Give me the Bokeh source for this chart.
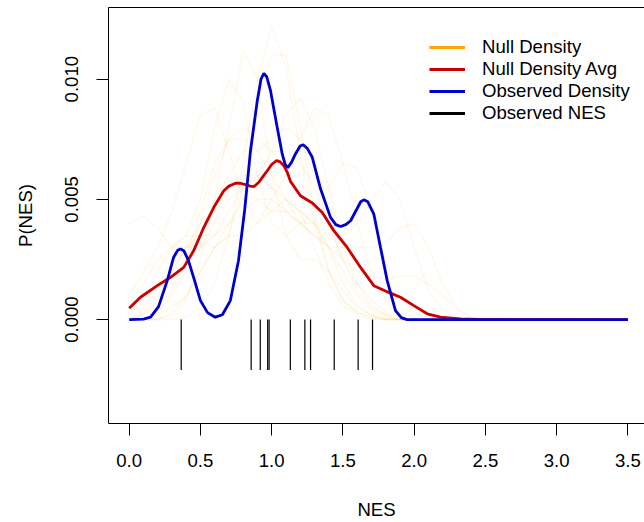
from bokeh.plotting import figure
from bokeh.models import (Range1d, FixedTicker, LinearAxis, Legend, LegendItem,
                          NumeralTickFormatter)
from bokeh.embed import file_html
from bokeh.resources import INLINE

# ---- data ----
obs_nes = [0.365, 0.856, 0.920, 0.972, 0.982, 1.131, 1.233, 1.273, 1.439, 1.607, 1.708]

obs_x = [0.0, 0.1, 0.15, 0.206, 0.267, 0.311, 0.34, 0.36, 0.385, 0.416, 0.46, 0.5,
         0.55, 0.604, 0.654, 0.71, 0.767, 0.81, 0.851, 0.899, 0.925, 0.945, 0.965,
         0.992, 1.039, 1.074, 1.095, 1.113, 1.14, 1.167, 1.20, 1.221, 1.25, 1.285,
         1.343, 1.413, 1.45, 1.483, 1.52, 1.554, 1.60, 1.625, 1.647, 1.675, 1.717,
         1.764, 1.811, 1.869, 1.91, 1.95, 3.5]
obs_y = [0.0, 0.00002, 0.0001, 0.00054, 0.00162, 0.00258, 0.00288, 0.00294, 0.00285,
         0.00245, 0.00160, 0.00079, 0.00029, 0.0001, 0.0002, 0.00079, 0.00245, 0.00453,
         0.0070, 0.0091, 0.0100, 0.01024, 0.0101, 0.00952, 0.00799, 0.00689, 0.00645,
         0.00632, 0.00655, 0.00689, 0.00722, 0.00727, 0.00712, 0.00675, 0.00544,
         0.00425, 0.00395, 0.00387, 0.00395, 0.00411, 0.00462, 0.0049, 0.00498, 0.0049,
         0.00439, 0.0030, 0.00162, 0.00037, 0.00008, 0.0, 0.0]

avg_x = [0.0, 0.079, 0.197, 0.29, 0.383, 0.453, 0.524, 0.594, 0.664, 0.70, 0.746, 0.78,
         0.816, 0.85, 0.875, 0.91, 0.945, 0.969, 1.0, 1.034, 1.06, 1.085, 1.11, 1.132,
         1.202, 1.285, 1.355, 1.436, 1.53, 1.624, 1.717, 1.822, 1.904, 1.998, 2.092,
         2.185, 2.326, 2.5, 3.5]
avg_y = [0.00047, 0.00093, 0.00141, 0.00176, 0.00217, 0.00287, 0.00384, 0.00467, 0.00536,
         0.00555, 0.00567, 0.00567, 0.00561, 0.00555, 0.00553, 0.00571, 0.00600, 0.00619,
         0.00645, 0.00661, 0.00656, 0.0064, 0.00612, 0.00575, 0.00515, 0.00485, 0.00445,
         0.0037, 0.0030, 0.00217, 0.00141, 0.00113, 0.00093, 0.00058, 0.00024, 0.0001,
         0.00003, 0.0, 0.0]

null_x = [0.0, 0.1, 0.2, 0.3, 0.4, 0.5, 0.6, 0.7, 0.8, 0.9, 1.0, 1.1, 1.2, 1.3, 1.4,
          1.5, 1.6, 1.7, 1.8, 1.9, 2.0, 2.1, 2.2, 2.3, 2.4, 3.5]
# individual null densities (units of 1e-3)
null_curves = [
    [0, 0, 0, 0, 0.1, 0.5, 1.5, 3.5, 6.5, 10, 12.2, 10.5, 7, 4, 2, 0.8, 0.3, 0.1, 0, 0, 0, 0, 0, 0, 0, 0],
    [0, 0, 0, 0.2, 0.8, 2.5, 5, 8, 11.2, 10, 6, 3.5, 2.5, 2.5, 2, 1.2, 0.5, 0.2, 0, 0, 0, 0, 0, 0, 0, 0],
    [0, 0.2, 0.8, 2, 3, 3.2, 3, 3.5, 5.5, 9, 11, 11, 8, 4.5, 2, 0.8, 0.3, 0.1, 0, 0, 0, 0, 0, 0, 0, 0],
    [0.5, 1.5, 2.5, 3, 3.5, 5, 8, 10, 9, 6, 4, 3.5, 4, 4, 3, 1.5, 0.6, 0.2, 0, 0, 0, 0, 0, 0, 0, 0],
    [1, 2, 3, 4.5, 6.5, 8.5, 8.8, 7, 5, 4, 4.5, 5, 4.5, 3, 1.5, 0.6, 0.2, 0, 0, 0, 0, 0, 0, 0, 0, 0],
    [0, 0, 0.2, 0.5, 1, 2, 3, 4, 5, 6, 7, 8.5, 9.2, 8, 5.5, 3, 1.5, 0.6, 0.2, 0, 0, 0, 0, 0, 0, 0],
    [0, 0, 0, 0.3, 1, 2, 3, 3.5, 3.5, 4, 5, 6, 7.5, 8.8, 8.5, 6.5, 4, 2, 0.8, 0.3, 0.1, 0, 0, 0, 0, 0],
    [0, 0.5, 1.5, 2.5, 3, 3, 3.5, 4.5, 5.5, 6, 5.5, 4.5, 4, 4.5, 5.5, 6.5, 6.3, 4.5, 2.5, 1, 0.3, 0.1, 0, 0, 0, 0],
    [0, 0, 0.3, 1, 2, 3, 4, 5, 5.5, 5, 4.5, 4.5, 4.5, 4, 3.5, 3.5, 4, 5, 5.7, 5, 3, 1.2, 0.4, 0.1, 0, 0],
    [0.5, 1, 2, 3, 3.5, 3.5, 3.5, 4, 4.5, 5, 5, 4.5, 4, 3.5, 3, 3, 3, 3, 3.2, 3.8, 4, 3, 1.5, 0.5, 0.1, 0],
    [4, 4.3, 3.8, 3, 3, 3.5, 4.5, 5.5, 6, 6, 5.5, 5, 4.5, 4, 3, 2, 1, 0.4, 0.1, 0, 0, 0, 0, 0, 0, 0],
    [0, 0.3, 1, 2, 3, 4, 5, 6, 7, 7, 6, 5, 4, 3.5, 3, 2.5, 2, 1.8, 1.7, 1.8, 1.8, 1.5, 1, 0.4, 0.1, 0],
    [0.2, 0.8, 1.5, 2, 2.5, 4, 6, 7.5, 8, 7.5, 7, 7, 6.5, 5.5, 4, 2.5, 1.2, 0.5, 0.2, 0, 0, 0, 0, 0, 0, 0],
    [0, 0.2, 0.6, 1.2, 2.5, 4.5, 6.5, 7.5, 7.5, 7, 7.5, 8, 7.5, 6, 4, 2.5, 1.5, 0.8, 0.3, 0.1, 0, 0, 0, 0, 0, 0],
]
x_ticks = [0.0, 0.5, 1.0, 1.5, 2.0, 2.5, 3.0, 3.5]
y_ticks = [0.0, 0.005, 0.010]
rug_len = 0.0021

FONT = "Liberation Sans"
FS = "18.6px"

p = figure(width=644, height=522, output_backend="svg", toolbar_location=None,
           x_range=Range1d(-0.1453, 3.617), y_range=Range1d(-0.004322, 0.01298),
           min_border_left=108, min_border_right=0, min_border_top=7,
           min_border_bottom=99)
p.grid.visible = False
p.outline_line_color = None
p.background_fill_color = "white"

for ys in null_curves:
    p.line(null_x, [v * 0.001 for v in ys], line_color="#FFA500", line_alpha=0.08,
           line_width=1.5)

p.segment(x0=obs_nes, y0=[0.0] * len(obs_nes), x1=obs_nes,
          y1=[-rug_len] * len(obs_nes), line_color="black", line_width=1.2)

r_avg = p.line(avg_x, avg_y, line_color="#CD0000", line_width=2.8)
r_obs = p.line(obs_x, obs_y, line_color="#0000CD", line_width=2.8)

# legend-only renderers placed outside the visible range
d_null = p.line([-100, -99], [0, 0], line_color="#FFA500", line_width=2.8)
d_nes = p.line([-100, -99], [0, 0], line_color="black", line_width=2.8)

for ax in (p.xaxis[0], p.yaxis[0]):
    ax.major_tick_out = 12
    ax.major_tick_in = 0
    ax.minor_tick_line_color = None
    ax.major_label_text_font = FONT
    ax.major_label_text_font_size = FS
    ax.axis_label_text_font = FONT
    ax.axis_label_text_font_size = FS
    ax.axis_label_text_font_style = "normal"
    ax.axis_line_color = "black"
    ax.major_tick_line_color = "black"
    ax.major_label_text_color = "black"
    ax.axis_label_text_color = "black"

p.xaxis.ticker = FixedTicker(ticks=x_ticks)
p.xaxis.formatter = NumeralTickFormatter(format="0.0")
p.xaxis.axis_label = "NES"
p.xaxis.major_label_standoff = 18
p.xaxis.axis_label_standoff = 29

p.yaxis.ticker = FixedTicker(ticks=y_ticks)
p.yaxis.formatter = NumeralTickFormatter(format="0.000")
p.yaxis.major_label_orientation = "vertical"
p.yaxis.axis_label = "P(NES)"
p.yaxis.major_label_standoff = 18
p.yaxis.axis_label_standoff = 27

top = LinearAxis(ticker=FixedTicker(ticks=[]), major_label_text_font_size="0px",
                 major_tick_out=0, major_tick_in=0, minor_tick_line_color=None,
                 major_label_standoff=0, axis_line_color="black")
p.add_layout(top, "above")

legend = Legend(items=[
    LegendItem(label="Null Density", renderers=[d_null]),
    LegendItem(label="Null Density Avg", renderers=[r_avg]),
    LegendItem(label="Observed Density", renderers=[r_obs]),
    LegendItem(label="Observed NES", renderers=[d_nes]),
], location=(321, 299), padding=0, margin=0, border_line_color=None,
    background_fill_alpha=0, glyph_width=36, glyph_height=22, label_height=22,
    spacing=0, label_standoff=17, label_text_font=FONT, label_text_font_size=FS,
    label_text_color="black")
p.add_layout(legend, "center")

open("out.html", "w").write(file_html(p, INLINE))
